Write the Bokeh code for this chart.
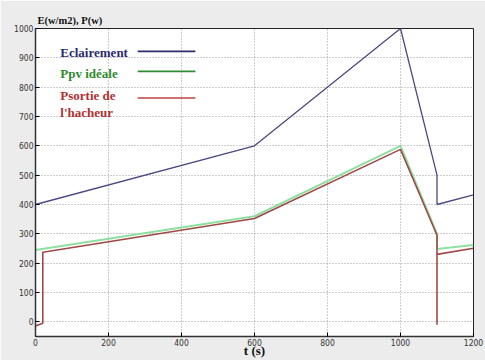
from bokeh.plotting import figure
from bokeh.models import Label, Range1d, FixedTicker
from bokeh.embed import file_html
from bokeh.resources import INLINE

# Irradiance profile E (W/m2)
t_ecl = [0, 600, 1000, 1100, 1100, 1200]
e_ecl = [400, 600, 1000, 500, 400, 433]

# Ideal PV power (W)
t_ppv = [0, 600, 1000, 1100, 1100, 1200]
p_ppv = [245, 360, 600, 300, 248, 262]

# Chopper output power (W)
t_out = [0, 20, 20, 600, 1000, 1100, 1100, 1100, 1200]
p_out = [-14, -5, 237, 352, 588, 295, -10, 230, 251]

x_ticks = [0, 200, 400, 600, 800, 1000, 1200]
y_ticks = [0, 100, 200, 300, 400, 500, 600, 700, 800, 900, 1000]

legend_names = ["Eclairement", "Ppv idéale", "Psortie de", "l'hacheur"]

BLUE = "#4a4a80"
GREEN = "#8fe0a0"
RED = "#a04848"

p = figure(width=485, height=360, output_backend="svg", toolbar_location=None,
           x_range=Range1d(0, 1200), y_range=Range1d(-50, 1000),
           min_border_left=35, min_border_right=12, min_border_top=28,
           min_border_bottom=4)
p.background_fill_color = "white"
p.border_fill_color = "#ececec"
p.outline_line_color = "#222222"
p.outline_line_width = 1

p.title.text = "E(w/m2), P(w)"
p.title.align = "left"
p.title.text_font = "Liberation Serif"
p.title.text_font_style = "bold"
p.title.text_font_size = "10.5px"
p.title.text_color = "#111111"
p.title.offset = 2
p.title.standoff = 5

for ax in (p.xaxis[0], p.yaxis[0]):
    ax.major_tick_in = 4
    ax.major_tick_out = 0
    ax.minor_tick_line_color = None
    ax.axis_line_color = "#333333"
    ax.axis_line_width = 1.5
    ax.major_label_text_font = "DejaVu Sans Condensed"
    ax.major_label_text_font_size = "8.5px"
    ax.major_label_text_color = "#333333"
    ax.major_label_standoff = 2
p.xaxis.ticker = FixedTicker(ticks=x_ticks)
p.yaxis.ticker = FixedTicker(ticks=y_ticks)

p.xaxis.axis_label = "t (s)"
p.xaxis.axis_label_text_font = "Liberation Serif"
p.xaxis.axis_label_text_font_style = "bold"
p.xaxis.axis_label_text_font_size = "13px"
p.xaxis.axis_label_text_color = "#111111"
p.xaxis.axis_label_standoff = -6

p.grid.grid_line_color = "#9a9a9a"
p.grid.grid_line_dash = "1 2"
p.grid.grid_line_width = 1

p.line(t_ppv, p_ppv, color=GREEN, line_width=2)
p.line(t_out, p_out, color=RED, line_width=1.6)
p.line(t_ecl, e_ecl, color=BLUE, line_width=1.3)

# legend block drawn inside the axes
legend_colors = ["#2b2b6e", "#2e8b2e", "#b03030", "#b03030"]
legend_y = [919, 847, 770, 715]
for name, col, yv in zip(legend_names, legend_colors, legend_y):
    p.add_layout(Label(x=68, y=yv, text=name, text_color=col,
                       text_font="Liberation Serif", text_font_style="bold",
                       text_font_size="13px", text_baseline="middle"))
sample_y = [922, 854, 763]
sample_c = ["#2b2b6e", "#2e8b2e", "#c04040"]
for yv, col in zip(sample_y, sample_c):
    p.line([280, 438], [yv, yv], color=col, line_width=1.6)

open("out.html", "w").write(file_html(p, INLINE))
